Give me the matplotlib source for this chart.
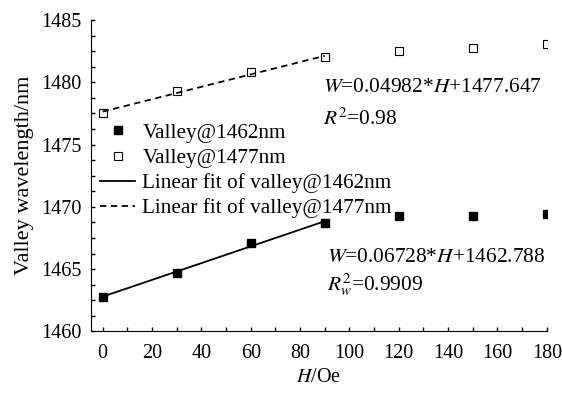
import numpy as np
import matplotlib
matplotlib.use('Agg')
import matplotlib.pyplot as plt
from matplotlib.ticker import MultipleLocator

# --- data ---
field_H = [0, 30, 60, 90, 120, 150, 180]
valley_1462 = [1462.75, 1464.65, 1467.1, 1468.7, 1469.25, 1469.25, 1469.4]
valley_1477 = [1477.55, 1479.3, 1480.85, 1482.05, 1482.55, 1482.75, 1483.1]

# linear fit coefficients (slope, intercept) as printed on the chart
fit_1462 = (0.06728, 1462.788)
fit_1477 = (0.04982, 1477.647)
fit_range = [0, 90]

plt.rcParams['font.family'] = ['Liberation Serif', 'DejaVu Serif']
plt.rcParams['mathtext.fontset'] = 'stix'
plt.rcParams['font.size'] = 14.5

fig = plt.figure(figsize=(5.62, 3.94), dpi=100)
ax = fig.add_axes([0.162, 0.159, 0.811, 0.79])

ax.plot(field_H, valley_1462, 's', color='black', markersize=5.5,
        label='Valley@1462nm')
ax.plot(field_H, valley_1477, 's', markerfacecolor='white', markeredgecolor='black',
        markeredgewidth=0.8, markersize=6, label='Valley@1477nm')

xf = np.array(fit_range)
ax.plot(xf, fit_1462[0] * xf + fit_1462[1], '-', color='black', linewidth=1.3,
        label='Linear fit of valley@1462nm')
ax.plot(xf, fit_1477[0] * xf + fit_1477[1], '--', color='black', linewidth=1.3,
        dashes=(3.5, 2.5), label='Linear fit of valley@1477nm')

ax.set_xlim(-4.7, 180)
ax.set_ylim(1460, 1485)
ax.xaxis.set_major_locator(MultipleLocator(20))
ax.xaxis.set_minor_locator(MultipleLocator(10))
ax.yaxis.set_major_locator(MultipleLocator(5))
ax.yaxis.set_minor_locator(MultipleLocator(1.25))
ax.tick_params(which='both', direction='in', width=1.0, length=3)
ax.tick_params(axis='x', pad=9)
ax.tick_params(axis='y', pad=7)
ax.spines['top'].set_visible(False)
ax.spines['right'].set_visible(False)

ax.set_xlabel(r'$H$/Oe', labelpad=4)
ax.set_ylabel('Valley wavelength/nm', fontsize=16, labelpad=5)

eq_font = 15.4
ax.text(0.509, 0.77, r'$W$=0.04982*$H$+1477.647', transform=ax.transAxes, fontsize=eq_font)
ax.text(0.509, 0.665, r'$R^2$=0.98', transform=ax.transAxes, fontsize=eq_font)
ax.text(0.518, 0.224, r'$W$=0.06728*$H$+1462.788', transform=ax.transAxes, fontsize=eq_font)
ax.text(0.518, 0.132, r'$R^2_w$=0.9909', transform=ax.transAxes, fontsize=eq_font)

ax.legend(loc='upper left', bbox_to_anchor=(0.159, 0.715), bbox_transform=fig.transFigure,
          frameon=False, borderpad=0, handlelength=1.65, handletextpad=0.35,
          labelspacing=0.25, fontsize=15.3)

fig.savefig('out.png', dpi=100)
